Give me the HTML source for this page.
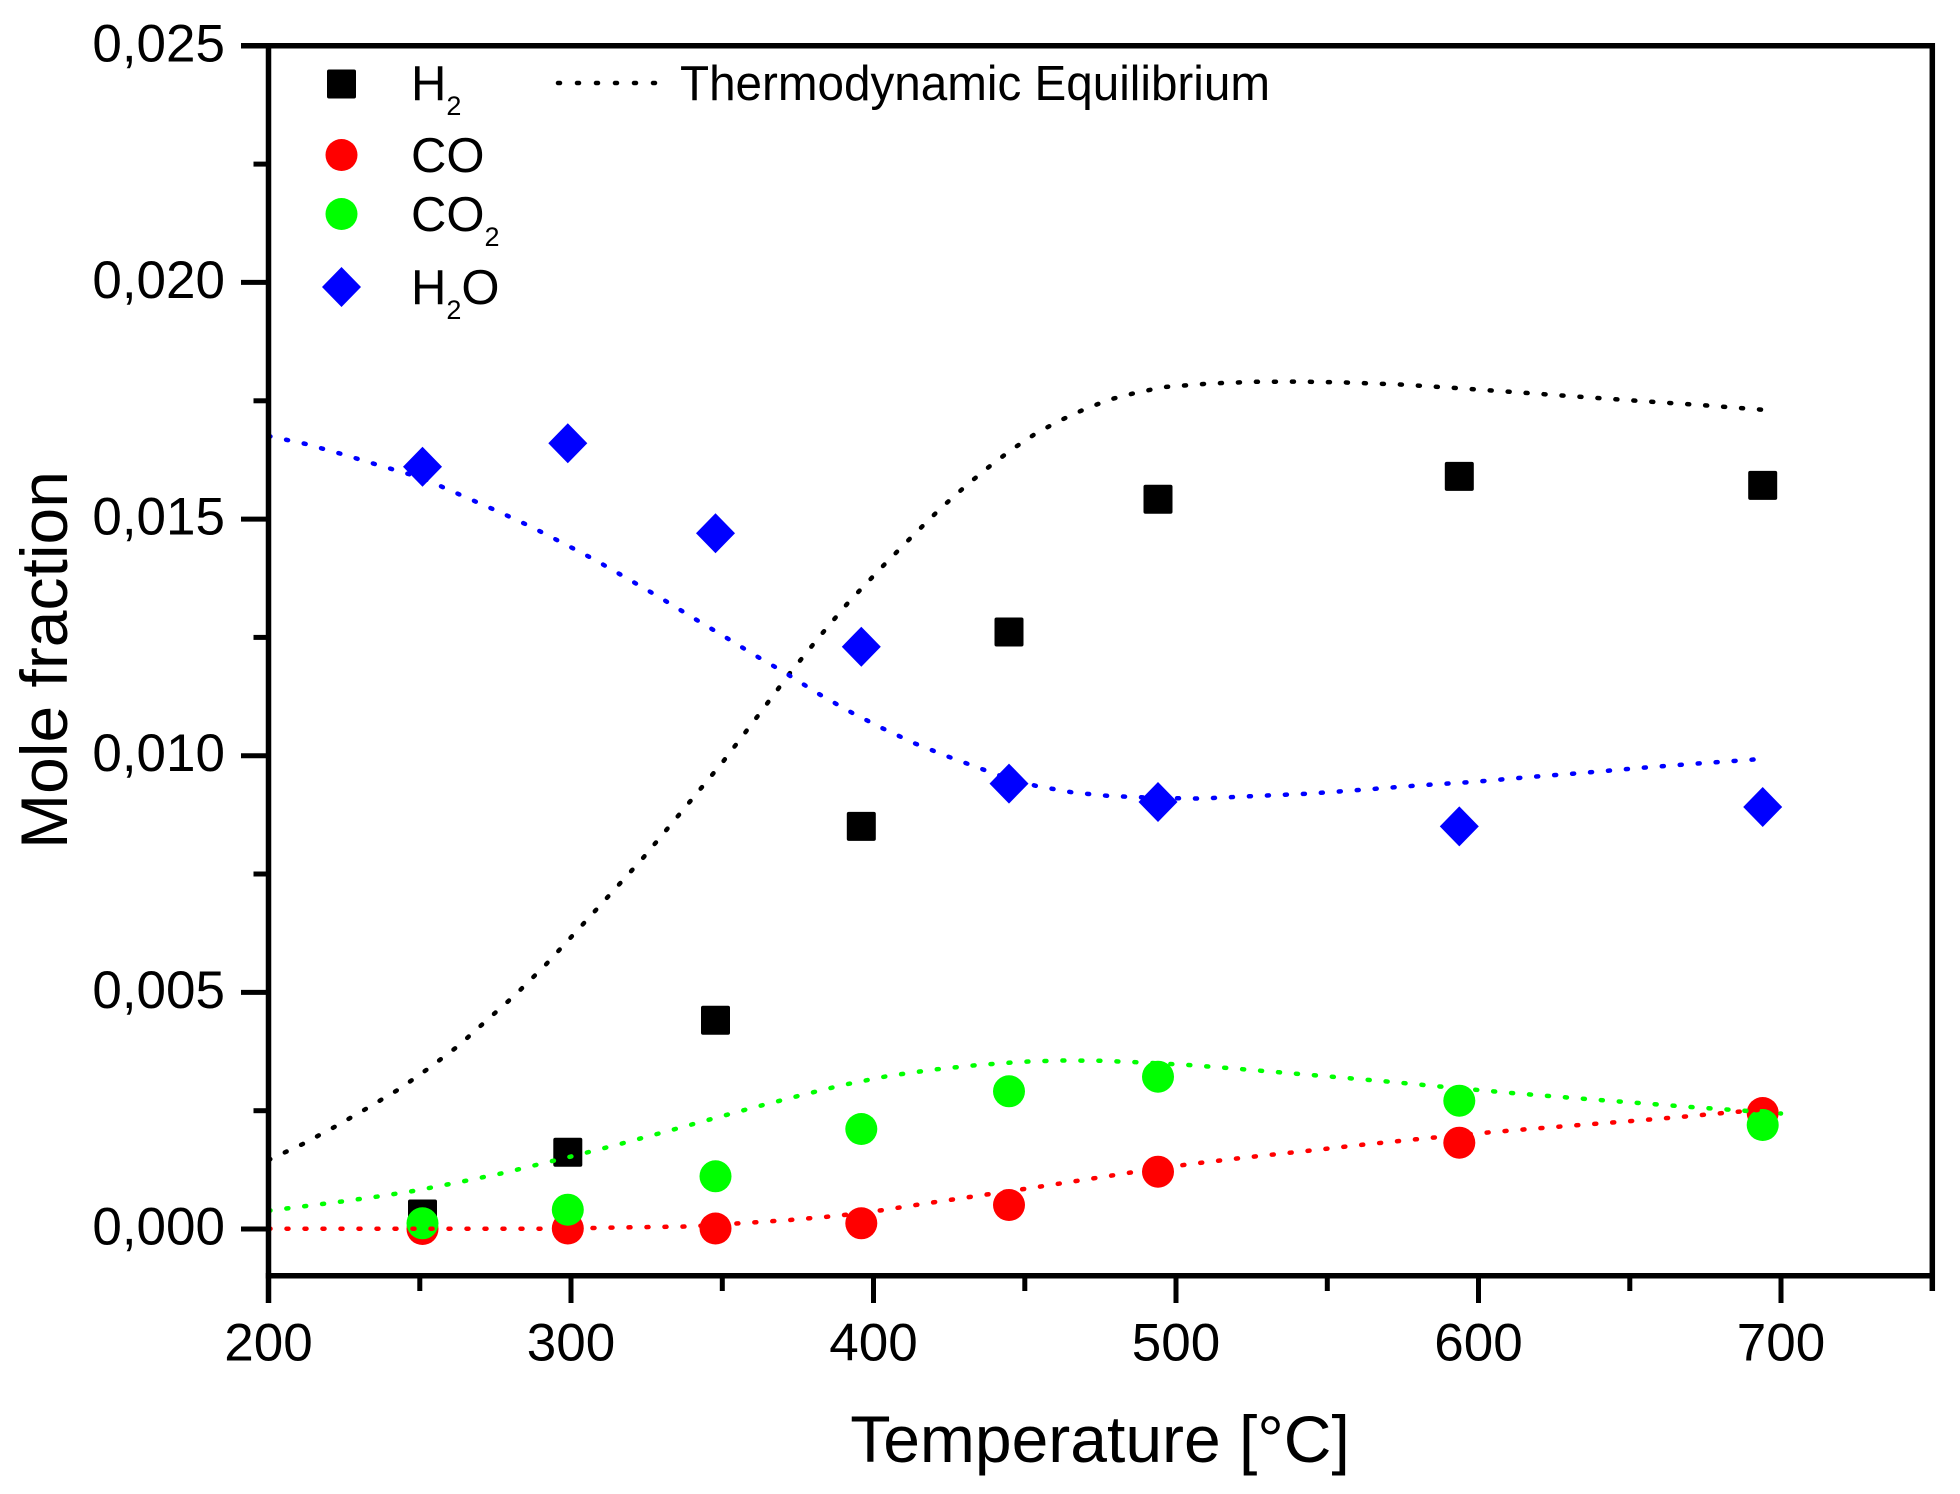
<!DOCTYPE html>
<html>
<head>
<meta charset="utf-8">
<style>
  html, body { margin: 0; padding: 0; background: #ffffff; }
  svg { display: block; }
  text { font-family: "Liberation Sans", Arial, sans-serif; fill: #000; }
</style>
</head>
<body>
<svg xmlns="http://www.w3.org/2000/svg" width="1960" height="1494" viewBox="0 0 1960 1494">
  <rect x="0" y="0" width="1960" height="1494" fill="#ffffff"/>

  <!-- H2 squares -->
  <g fill="#000000">
    <rect x="408" y="1199.5" width="29" height="29" rx="2"/>
    <rect x="553.3" y="1137.8" width="29" height="29" rx="2"/>
    <rect x="701" y="1005.7" width="29" height="29" rx="2"/>
    <rect x="846.8" y="811.9" width="29" height="29" rx="2"/>
    <rect x="994.5" y="617.5" width="29" height="29" rx="2"/>
    <rect x="1143.5" y="484.8" width="29" height="29" rx="2"/>
    <rect x="1444.8" y="461.9" width="29" height="29" rx="2"/>
    <rect x="1748.2" y="470.9" width="29" height="29" rx="2"/>
  </g>

  <!-- CO red circles -->
  <g fill="#ff0000">
    <circle cx="422.5" cy="1229" r="16"/>
    <circle cx="567.8" cy="1228.5" r="16"/>
    <circle cx="715.5" cy="1228.5" r="16"/>
    <circle cx="861.3" cy="1223.3" r="16"/>
    <circle cx="1009" cy="1205" r="16"/>
    <circle cx="1158" cy="1171.7" r="16"/>
    <circle cx="1459.3" cy="1142.7" r="16"/>
    <circle cx="1762.7" cy="1113" r="16"/>
  </g>

  <!-- CO2 green circles -->
  <g fill="#00ff00">
    <circle cx="422.5" cy="1223.3" r="16"/>
    <circle cx="567.8" cy="1209.7" r="16"/>
    <circle cx="715.5" cy="1176.3" r="16"/>
    <circle cx="861.3" cy="1129" r="16"/>
    <circle cx="1009" cy="1091.3" r="16"/>
    <circle cx="1158" cy="1076.7" r="16"/>
    <circle cx="1459.3" cy="1100.7" r="16"/>
    <circle cx="1762.7" cy="1125" r="16"/>
  </g>

  <!-- H2O blue diamonds -->
  <g fill="#0000ff">
    <polygon points="422.5,446.7 442,466.7 422.5,486.7 403,466.7"/>
    <polygon points="567.8,423.3 587.3,443.3 567.8,463.3 548.3,443.3"/>
    <polygon points="715.5,513.3 735,533.3 715.5,553.3 696,533.3"/>
    <polygon points="861.3,626.7 880.8,646.7 861.3,666.7 841.8,646.7"/>
    <polygon points="1009,763.6 1028.5,783.6 1009,803.6 989.5,783.6"/>
    <polygon points="1158,782 1177.5,802 1158,822 1138.5,802"/>
    <polygon points="1459.3,806.4 1478.8,826.4 1459.3,846.4 1439.8,826.4"/>
    <polygon points="1762.7,787 1782.2,807 1762.7,827 1743.2,807"/>
  </g>

  <!-- Equilibrium dotted curves -->
  <g fill="none" stroke-width="4.5" stroke-linecap="round" stroke-linejoin="round" stroke-dasharray="2 16">
    <polyline stroke="#000000" points="268.5,1160 302.8,1144 335,1126.7 367,1108.3 399.3,1089 428.7,1068.3 458.2,1046 486,1021 514.4,995.7 545,965.5 585,922 615,889 643,858 683,810 723,761.7 757,717 790,673 820,636 849,601.7 882,567 914.5,534 941,508 967.6,484.3 990,466 1011.6,449.6 1035,434 1058.9,421 1085,409 1109.6,399.6 1137,392.5 1163.7,387.1 1210,383.5 1255,381.8 1300,381.6 1346,382.5 1400,384.5 1454,387.9 1520,392.5 1583,397 1640,401 1700,405 1766,410"/>
    <polyline stroke="#0000ff" points="268.5,436 306,444 341.6,454 377,464.7 422,478 462.9,496 496.5,510.7 530.2,526.3 562.2,542.7 594.6,559.7 627,578.3 658.6,596.7 690.1,616 723,635.7 754.5,655 786,673.3 817.7,693.3 849.2,711.3 881.2,727.7 915,743.5 948.7,756.8 984.5,770 1008,778.5 1036.6,786 1073,792.5 1109.6,796 1158,798 1200.9,798.6 1255,796 1310,793.6 1364.5,789.6 1419.3,785.4 1474.7,781.8 1528.8,777.1 1583,772.9 1637,768.2 1692.4,763.9 1747.2,760 1767,758.6"/>
    <polyline stroke="#00ff00" points="268.5,1210.7 302,1206.5 340.3,1201.7 378,1196.5 415.3,1190.7 460,1182 504.8,1172.7 540,1164 576,1155.3 620,1144 664.4,1132 708,1120 752.8,1107.7 798,1096 842.8,1085 888,1076 932.7,1069.7 978,1065 1023.8,1061.7 1060,1060.5 1100,1060.7 1144,1062.5 1188.4,1065 1234,1068.5 1279.4,1072.3 1335,1077 1389.2,1081.7 1450,1087.5 1515,1093.3 1580,1098.5 1643,1103.3 1690,1107 1734.7,1110 1781,1113.5"/>
    <polyline stroke="#ff0000" points="268.5,1228.7 560,1228.7 617,1227.5 688.5,1226.5 744.7,1223 790,1220 835.8,1216 880,1210.5 926.9,1203.3 980,1195.5 1035.6,1187.3 1089.2,1179 1107,1176.3 1150,1169.5 1196.4,1163.3 1250,1157 1306.2,1151 1360,1145 1416,1139.3 1470,1134 1525.8,1129.3 1580,1125 1635.6,1120.7 1680,1117 1726.7,1112.7 1781,1108"/>
  </g>

  <!-- Axes frame -->
  <g stroke="#000000" stroke-width="5.5" fill="none" stroke-linecap="butt">
    <line x1="241" y1="45.8" x2="1935" y2="45.8"/>
    <line x1="265.8" y1="1275.7" x2="1935" y2="1275.7"/>
    <line x1="268.5" y1="43" x2="268.5" y2="1303"/>
    <line x1="1932.3" y1="43" x2="1932.3" y2="1291"/>
  </g>

  <!-- Y ticks -->
  <g stroke="#000000" stroke-width="5">
    <line x1="241" y1="1229" x2="268.5" y2="1229"/>
    <line x1="241" y1="992.4" x2="268.5" y2="992.4"/>
    <line x1="241" y1="755.7" x2="268.5" y2="755.7"/>
    <line x1="241" y1="519.1" x2="268.5" y2="519.1"/>
    <line x1="241" y1="282.4" x2="268.5" y2="282.4"/>
    <line x1="253.5" y1="1110.7" x2="268.5" y2="1110.7"/>
    <line x1="253.5" y1="874" x2="268.5" y2="874"/>
    <line x1="253.5" y1="637.4" x2="268.5" y2="637.4"/>
    <line x1="253.5" y1="400.8" x2="268.5" y2="400.8"/>
    <line x1="253.5" y1="164.1" x2="268.5" y2="164.1"/>
  </g>

  <!-- X ticks -->
  <g stroke="#000000" stroke-width="5">
    <line x1="571" y1="1275.7" x2="571" y2="1303"/>
    <line x1="873.5" y1="1275.7" x2="873.5" y2="1303"/>
    <line x1="1176" y1="1275.7" x2="1176" y2="1303"/>
    <line x1="1478.5" y1="1275.7" x2="1478.5" y2="1303"/>
    <line x1="1781" y1="1275.7" x2="1781" y2="1303"/>
    <line x1="419.8" y1="1275.7" x2="419.8" y2="1291"/>
    <line x1="722.3" y1="1275.7" x2="722.3" y2="1291"/>
    <line x1="1024.8" y1="1275.7" x2="1024.8" y2="1291"/>
    <line x1="1327.3" y1="1275.7" x2="1327.3" y2="1291"/>
    <line x1="1629.8" y1="1275.7" x2="1629.8" y2="1291"/>
  </g>

  <!-- Y tick labels -->
  <g font-size="53" text-anchor="end">
    <text x="225" y="1244.5">0,000</text>
    <text x="225" y="1007.9">0,005</text>
    <text x="225" y="771.2">0,010</text>
    <text x="225" y="534.6">0,015</text>
    <text x="225" y="297.9">0,020</text>
    <text x="225" y="61.3">0,025</text>
  </g>

  <!-- X tick labels -->
  <g font-size="53" text-anchor="middle">
    <text x="268.5" y="1360.7">200</text>
    <text x="571" y="1360.7">300</text>
    <text x="873.5" y="1360.7">400</text>
    <text x="1176" y="1360.7">500</text>
    <text x="1478.5" y="1360.7">600</text>
    <text x="1781" y="1360.7">700</text>
  </g>

  <!-- Axis titles -->
  <text x="1100" y="1462" font-size="66" text-anchor="middle">Temperature [°C]</text>
  <text transform="translate(67,660) rotate(-90)" font-size="66" text-anchor="middle">Mole fraction</text>

  <!-- Legend -->
  <rect x="327" y="69.5" width="29" height="29" rx="2" fill="#000000"/>
  <circle cx="341.5" cy="155" r="16" fill="#ff0000"/>
  <circle cx="341.5" cy="214" r="16" fill="#00ff00"/>
  <polygon points="341.5,267 361,287 341.5,307 322,287" fill="#0000ff"/>

  <g font-size="49">
    <text x="411" y="100">H<tspan font-size="27" dy="15">2</tspan></text>
    <text x="411" y="172">CO</text>
    <text x="411" y="231">CO<tspan font-size="27" dy="15">2</tspan></text>
    <text x="411" y="304">H<tspan font-size="27" dy="15">2</tspan><tspan dy="-15">O</tspan></text>
    <text x="680" y="100" textLength="590" lengthAdjust="spacingAndGlyphs">Thermodynamic Equilibrium</text>
  </g>
  <line x1="558" y1="83" x2="656" y2="83" stroke="#000000" stroke-width="4.5" stroke-linecap="round" stroke-dasharray="2 17"/>
</svg>
</body>
</html>
